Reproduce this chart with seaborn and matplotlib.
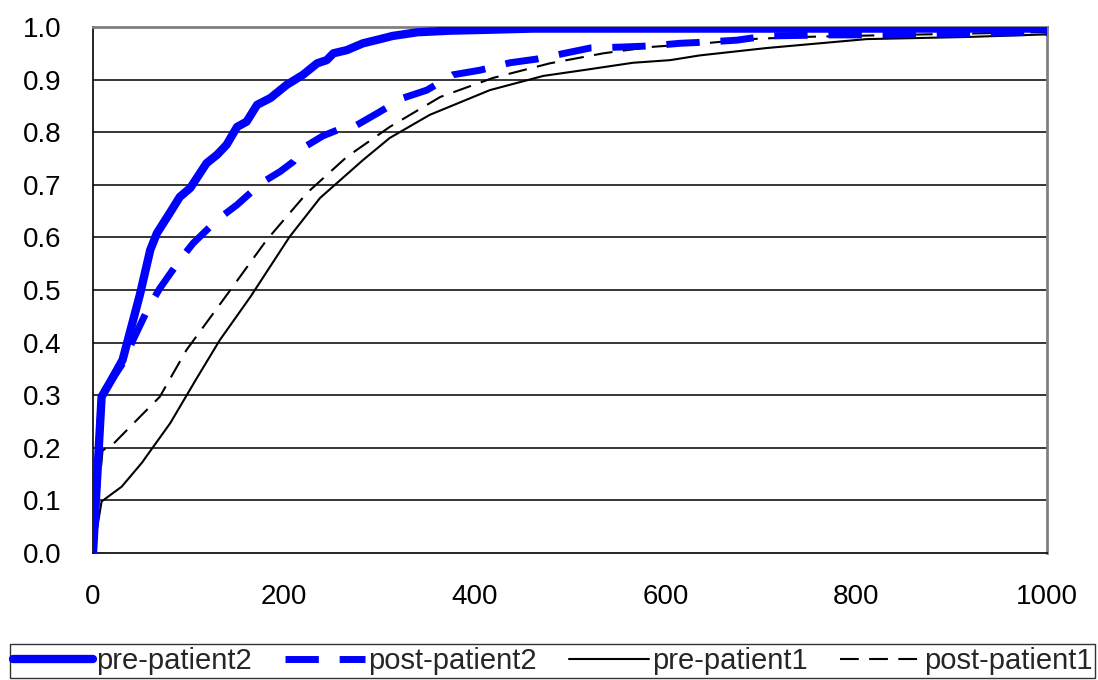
import matplotlib
matplotlib.use("Agg")
import matplotlib.pyplot as plt
import seaborn as sns

pre2_x = [0, 9, 18, 31, 49, 60, 67, 80, 91, 102, 119, 130, 140, 151, 161, 172, 186, 203, 220, 235, 245, 252, 266, 283, 301, 314, 340, 374, 420, 461, 500, 600, 700, 800, 900, 1000]
pre2_y = [0, 0.297, 0.325, 0.367, 0.49, 0.576, 0.608, 0.645, 0.677, 0.694, 0.741, 0.757, 0.776, 0.81, 0.82, 0.852, 0.865, 0.89, 0.909, 0.931, 0.937, 0.95, 0.956, 0.969, 0.977, 0.983, 0.99, 0.993, 0.995, 0.997, 0.997, 0.997, 0.997, 0.997, 0.997, 0.997]

post2_x = [0, 9, 18, 31, 42, 58, 70, 91, 105, 130, 151, 177, 196, 210, 220, 241, 256, 275, 298, 325, 350, 377, 406, 437, 465, 497, 521, 556, 584, 615, 639, 675, 706, 776, 835, 898, 1000]
post2_y = [0, 0.3, 0.325, 0.36, 0.405, 0.466, 0.503, 0.557, 0.589, 0.633, 0.662, 0.704, 0.725, 0.744, 0.77, 0.793, 0.804, 0.812, 0.836, 0.865, 0.88, 0.909, 0.918, 0.932, 0.939, 0.951, 0.96, 0.962, 0.964, 0.969, 0.971, 0.975, 0.983, 0.985, 0.985, 0.987, 0.99]

pre1_x = [0, 9, 30, 51, 81, 109, 133, 165, 206, 238, 283, 311, 353, 416, 472, 514, 566, 605, 636, 706, 811, 916, 1000]
pre1_y = [0, 0.098, 0.126, 0.171, 0.247, 0.333, 0.405, 0.487, 0.601, 0.675, 0.747, 0.789, 0.833, 0.88, 0.907, 0.918, 0.932, 0.937, 0.946, 0.96, 0.977, 0.981, 0.986]

post1_x = [0, 10, 20, 46, 70, 98, 144, 182, 224, 266, 311, 364, 419, 479, 535, 584, 647, 689, 741, 846, 985, 1000]
post1_y = [0, 0.195, 0.205, 0.253, 0.297, 0.386, 0.5, 0.595, 0.684, 0.753, 0.81, 0.867, 0.903, 0.931, 0.95, 0.962, 0.97, 0.977, 0.981, 0.985, 0.99, 0.99]

labels = ["pre-patient2", "post-patient2", "pre-patient1", "post-patient1"]
x_ticks = [0, 200, 400, 600, 800, 1000]
y_ticks = [0.0, 0.1, 0.2, 0.3, 0.4, 0.5, 0.6, 0.7, 0.8, 0.9, 1.0]

sns.set_style("white")
plt.rcParams['font.family'] = ['Liberation Sans', 'DejaVu Sans']

fig = plt.figure(figsize=(10.98, 6.8), dpi=100)
ax = fig.add_axes([93/1098, 1-553/680, (1047-93)/1098, (553-27)/680])

for yv in y_ticks[1:-1]:
    ax.axhline(yv, color="black", lw=1.1, zorder=1)

sns.lineplot(x=pre1_x, y=pre1_y, ax=ax, color="black", linewidth=1.5, label=labels[2], zorder=3, estimator=None)
sns.lineplot(x=post1_x, y=post1_y, ax=ax, color="black", linewidth=1.5, linestyle=(0, (9, 5)), label=labels[3], zorder=3, estimator=None)
sns.lineplot(x=post2_x, y=post2_y, ax=ax, color="#0000FF", linewidth=5, linestyle=(0, (4.8, 3.0)), label=labels[1], zorder=4, estimator=None)
sns.lineplot(x=pre2_x, y=pre2_y, ax=ax, color="#0000FF", linewidth=6, solid_capstyle="round", solid_joinstyle="round", label=labels[0], zorder=5, estimator=None)

ax.set_xlim(0, 1000)
ax.set_ylim(0, 1.0)
ax.set_xticks(x_ticks)
ax.set_xticklabels([str(v) for v in x_ticks])
ax.set_yticks(y_ticks)
ax.set_yticklabels([f"{v:.1f}" for v in y_ticks])
ax.tick_params(axis="both", direction="in", length=6, width=1, colors="black", labelsize=20)
ax.tick_params(axis="y", pad=23)
ax.tick_params(axis="x", pad=22)
ax.set_xlabel("")
ax.set_ylabel("")

for s in ["left", "bottom"]:
    ax.spines[s].set_color("black")
    ax.spines[s].set_linewidth(1.2)
for s in ["top", "right"]:
    ax.spines[s].set_color("#808080")
    ax.spines[s].set_linewidth(2)

handles, labs = ax.get_legend_handles_labels()
order = [labs.index(l) for l in labels]
ax.get_legend().remove()
leg = fig.legend([handles[i] for i in order], [labs[i] for i in order],
                 loc="lower left", bbox_to_anchor=(10/1098, 2/680, 1085/1098, 33/680),
                 mode="expand", ncol=4,
                 fontsize=21, frameon=True, fancybox=False, edgecolor="black",
                 handlelength=2.75, handletextpad=0.1, columnspacing=0.6,
                 borderpad=0.1, borderaxespad=0)
leg.get_frame().set_linewidth(1.0)

fig.savefig("out.png", dpi=100, facecolor="white")
